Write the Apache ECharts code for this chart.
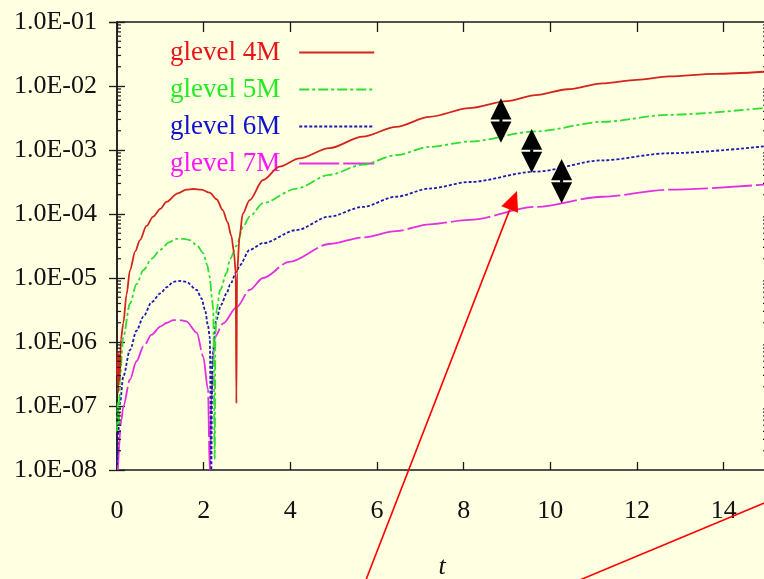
<!DOCTYPE html>
<html>
<head>
<meta charset="utf-8">
<script src="https://cdn.jsdelivr.net/npm/echarts@6/dist/echarts.min.js"></script>
<style>
  html, body { margin: 0; padding: 0; background: #FFFFE2; }
  #chart { width: 764px; height: 579px; }
</style>
</head>
<body>
<div id="chart"></div>
<script>
// Error norm versus time t for four grid levels, [t, value] pairs.
const glevel4M = [
  [0, 3e-7], [0.012, 7.5e-7], [0.025, 1.6e-7], [0.04, 6.5e-7], [0.06, 2.5e-7], [0.09, 1.1e-6],
  [0.145, 1.95e-6], [0.22, 5.5e-6], [0.30, 1.33e-5], [0.42, 2.6e-5], [0.53, 3.9e-5],
  [0.68, 6.5e-5], [0.835, 9.1e-5], [1.0, 1.2e-4], [1.14, 1.55e-4], [1.4, 2.1e-4],
  [1.6, 2.4e-4], [1.76, 2.46e-4], [1.95, 2.4e-4], [2.14, 2.15e-4], [2.3, 1.7e-4],
  [2.44, 1.15e-4], [2.55, 7.5e-5], [2.64, 4.5e-5], [2.70, 2.5e-5], [2.74, 1.2e-5],
  [2.755, 1.1e-7], [2.77, 1.2e-5], [2.83, 4.5e-5], [2.90, 1.0e-4], [3.06, 1.65e-4],
  [3.37, 3.4e-4], [3.75, 5.5e-4], [4.21, 7.4e-4], [4.9, 1.07e-3], [5.67, 1.62e-3],
  [6.44, 2.3e-3], [7.21, 3.3e-3], [8.13, 4.5e-3], [9.0, 5.8e-3], [9.66, 7.2e-3],
  [10.4, 8.9e-3], [11.2, 1.1e-2], [12.0, 1.25e-2], [12.74, 1.41e-2], [13.8, 1.55e-2],
  [15.0, 1.68e-2]
];
const glevel5M = [
  [0, 4e-8], [0.02, 1.2e-7], [0.04, 5e-8], [0.07, 2.9e-7], [0.145, 1.2e-6], [0.30, 4e-6],
  [0.45, 8e-6], [0.61, 1.33e-5], [0.8, 2.0e-5], [1.0, 2.75e-5], [1.2, 3.6e-5],
  [1.37, 4.1e-5], [1.55, 4.1e-5], [1.68, 3.9e-5], [1.85, 3.2e-5], [1.99, 2.45e-5],
  [2.08, 1.6e-5], [2.14, 1.05e-5], [2.19, 5e-6], [2.22, 3.2e-6], [2.255, 1.5e-8],
  [2.27, 1.2e-6], [2.30, 3.2e-6], [2.38, 6.5e-6], [2.53, 1.2e-5], [2.61, 2.0e-5],
  [2.76, 3.2e-5], [2.91, 6.3e-5], [3.06, 9.1e-5], [3.37, 1.48e-4], [4.14, 2.5e-4],
  [4.9, 4.1e-4], [5.67, 5.9e-4], [6.44, 8.3e-4], [7.21, 1.12e-3], [8.13, 1.35e-3],
  [9.66, 1.95e-3], [11.2, 2.75e-3], [12.74, 3.55e-3], [15.0, 4.6e-3]
];
const glevel6M = [
  [0, 1.2e-8], [0.03, 4e-8], [0.07, 1.1e-7], [0.145, 2.9e-7], [0.30, 7.5e-7], [0.45, 1.5e-6],
  [0.61, 2.5e-6], [0.8, 4.2e-6], [1.0, 5.75e-6], [1.15, 7.2e-6], [1.30, 8.7e-6],
  [1.45, 9.0e-6], [1.60, 8.7e-6], [1.84, 6.5e-6], [1.95, 4.8e-6], [2.03, 3.2e-6],
  [2.10, 1.8e-6], [2.14, 1.2e-6], [2.175, 1.0e-8], [2.20, 5.9e-7], [2.29, 2.2e-6],
  [2.40, 3.8e-6], [2.53, 5.75e-6], [2.61, 7.9e-6], [2.76, 1.26e-5], [2.83, 1.58e-5],
  [3.06, 2.75e-5], [3.37, 3.5e-5], [4.14, 5.6e-5], [4.9, 9.1e-5], [5.67, 1.29e-4],
  [6.44, 1.86e-4], [7.21, 2.5e-4], [8.13, 3.16e-4], [9.66, 4.6e-4], [11.2, 6.9e-4],
  [12.74, 8.9e-4], [15.0, 1.15e-3]
];
const glevel7M = [
  [0.02, 1.0e-8], [0.1, 6e-8], [0.145, 9.8e-8], [0.30, 2.6e-7], [0.45, 5e-7], [0.61, 8.5e-7],
  [0.8, 1.3e-6], [1.0, 1.74e-6], [1.15, 2.0e-6], [1.30, 2.2e-6], [1.45, 2.2e-6],
  [1.60, 2.1e-6], [1.84, 1.4e-6], [1.99, 5.9e-7], [2.10, 1.8e-7], [2.14, 1.0e-8],
  [2.18, 1.2e-7], [2.22, 6.3e-7], [2.26, 1.2e-6], [2.45, 1.95e-6], [2.76, 3.5e-6],
  [3.06, 6.5e-6], [3.37, 1.0e-5], [3.97, 1.78e-5], [4.9, 3.4e-5], [5.67, 4.3e-5],
  [6.44, 5.4e-5], [7.21, 6.9e-5], [8.13, 8.1e-5], [9.66, 1.29e-4], [11.2, 1.86e-4],
  [12.74, 2.4e-4], [15.0, 2.9e-4]
];

const seriesNames = ['glevel 4M', 'glevel 5M', 'glevel 6M', 'glevel 7M'];
const seriesData = [glevel4M, glevel5M, glevel6M, glevel7M];

// Log minor tick values (2..9 x each decade) on the value axis.
const decades = [-8, -7, -6, -5, -4, -3, -2];
const minorTickValues = [];
decades.forEach(function (d) {
  for (let m = 2; m <= 9; m++) minorTickValues.push([0, m * Math.pow(10, d)]);
});

// Black double-headed arrows (t, upper and lower value).
const arrowT = [8.86, 9.57, 10.26];
const arrowTop = [6.43e-3, 2.13e-3, 7.24e-4];
const arrowBottom = [1.3e-3, 4.42e-4, 1.47e-4];

// Red pointer lines: [t, value] of start and end, the first ends in a head.
const pointerLines = [
  { from: [5.70, 1.6e-10], to: [9.23, 2.29e-4], head: true },
  { from: [10.57, 1.78e-10], to: [15.76, 5.2e-9], head: false }
];

const lineColors = ['#d4241c', '#2ede2e', '#1a1ab4', '#e030e0'];
const textColors = ['#e8141a', '#24ec24', '#1010d0', '#ff14ff'];
const dashTypes = ['solid', [10, 3, 3, 3], [3, 2], [40, 4]];

const serif = '"Liberation Serif", "DejaVu Serif", serif';
const axisColor = '#1a1a1a';

function expLabel(v) {
  const e = Math.round(Math.log10(v));
  return '1.0E' + (e < 0 ? '-' : '+') + String(Math.abs(e)).padStart(2, '0');
}

const chart = echarts.init(document.getElementById('chart'), null, { renderer: 'canvas' });

const series = seriesNames.map(function (name, i) {
  return {
    name: name,
    type: 'line',
    data: seriesData[i],
    showSymbol: false,
    symbol: 'none',
    smooth: 0.3,
    smoothMonotone: 'x',
    clip: true,
    z: 5 - i,
    lineStyle: { color: lineColors[i], width: 1.8, type: dashTypes[i] },
    itemStyle: { color: lineColors[i] }
  };
});

series.push({
  name: 'minorTicks',
  type: 'custom',
  data: minorTickValues,
  clip: false,
  silent: true,
  z: 10,
  renderItem: function (params, api) {
    const v = api.value(1);
    const l = api.coord([0, v]);
    const r = api.coord([15, v]);
    const st = { stroke: axisColor, lineWidth: 1.2 };
    return {
      type: 'group',
      children: [
        { type: 'line', shape: { x1: l[0], y1: l[1], x2: l[0] + 4, y2: l[1] }, style: st },
        { type: 'line', shape: { x1: r[0], y1: r[1], x2: r[0] - 4, y2: r[1] }, style: st }
      ]
    };
  }
});

const baseX = {
  type: 'value', min: 0, max: 15, interval: 2,
  splitLine: { show: false },
  axisLine: { show: true, onZero: false, lineStyle: { color: axisColor, width: 1.5 } },
  axisTick: { show: true, inside: true, length: 8, lineStyle: { color: axisColor, width: 1.3 } }
};
const baseY = {
  type: 'log', logBase: 10, min: 1e-8, max: 1e-1, splitNumber: 7,
  splitLine: { show: false },
  axisLine: { show: true, lineStyle: { color: axisColor, width: 1.5 } },
  axisTick: { show: true, inside: true, length: 8, lineStyle: { color: axisColor, width: 1.3 } }
};

chart.setOption({
  animation: false,
  backgroundColor: '#FFFFE2',
  grid: { left: 117, right: -3, top: 22, bottom: 109, containLabel: false, outerBoundsMode: 'none' },
  xAxis: [
    Object.assign({}, baseX, {
      position: 'bottom',
      name: 't',
      nameLocation: 'middle',
      nameGap: 84,
      nameTextStyle: { fontFamily: serif, fontStyle: 'italic', fontSize: 26, color: '#111' },
      axisLabel: { fontFamily: serif, fontSize: 26, color: '#111', margin: 28, showMaxLabel: false }
    }),
    Object.assign({}, baseX, {
      position: 'top',
      axisLabel: { show: false },
      axisTick: { show: true, inside: true, length: 10, lineStyle: { color: axisColor, width: 1.3 } }
    })
  ],
  yAxis: [
    Object.assign({}, baseY, {
      position: 'left',
      axisLabel: { fontFamily: serif, fontSize: 26, color: '#111', margin: 20, formatter: expLabel }
    }),
    Object.assign({}, baseY, { position: 'right', axisLabel: { show: false } })
  ],
  legend: {
    orient: 'vertical',
    align: 'right',
    left: 165,
    top: 34,
    itemWidth: 75,
    itemHeight: 14,
    itemGap: 10,
    selectedMode: false,
    itemStyle: { opacity: 0 },
    textStyle: { fontFamily: serif, fontSize: 27, padding: [0, 14, 0, 0] },
    data: seriesNames.map(function (n, i) {
      return { name: n, textStyle: { color: textColors[i] } };
    })
  },
  series: series
});

// Annotations placed in data space.
function px(p) { return chart.convertToPixel({ xAxisIndex: 0, yAxisIndex: 0 }, p); }

const graphics = [];
arrowT.forEach(function (t, i) {
  const top = px([t, arrowTop[i]]);
  const bot = px([t, arrowBottom[i]]);
  const cx = top[0];
  const gap = 2;
  const head = (bot[1] - top[1] - gap) / 2;
  const hw = 10.5;
  graphics.push(
    { type: 'polygon', z: 100, shape: { points: [[cx, top[1]], [cx - hw, top[1] + head], [cx + hw, top[1] + head]] }, style: { fill: '#000' } },
    { type: 'polygon', z: 100, shape: { points: [[cx - hw, bot[1] - head], [cx + hw, bot[1] - head], [cx, bot[1]]] }, style: { fill: '#000' } },
    { type: 'rect', z: 100, shape: { x: cx - 1.5, y: top[1] + head - 0.5, width: 3, height: gap + 1 }, style: { fill: '#000' } }
  );
});

pointerLines.forEach(function (pl) {
  const a = px(pl.from);
  const b = px(pl.to);
  const dx = b[0] - a[0], dy = b[1] - a[1];
  const len = Math.sqrt(dx * dx + dy * dy);
  const ux = dx / len, uy = dy / len;
  const headLen = pl.head ? 20 : 0;
  const ex = b[0] - ux * headLen, ey = b[1] - uy * headLen;
  graphics.push({ type: 'line', z: 100, shape: { x1: a[0], y1: a[1], x2: ex, y2: ey }, style: { stroke: '#ff0000', lineWidth: 1.6 } });
  if (pl.head) {
    const nx = -uy, ny = ux, hw = 9;
    graphics.push({
      type: 'polygon', z: 100,
      shape: { points: [[b[0], b[1]], [ex + nx * hw, ey + ny * hw], [ex - nx * hw, ey - ny * hw]] },
      style: { fill: '#ff0000' }
    });
  }
});

chart.setOption({ graphic: graphics });
</script>
</body>
</html>
